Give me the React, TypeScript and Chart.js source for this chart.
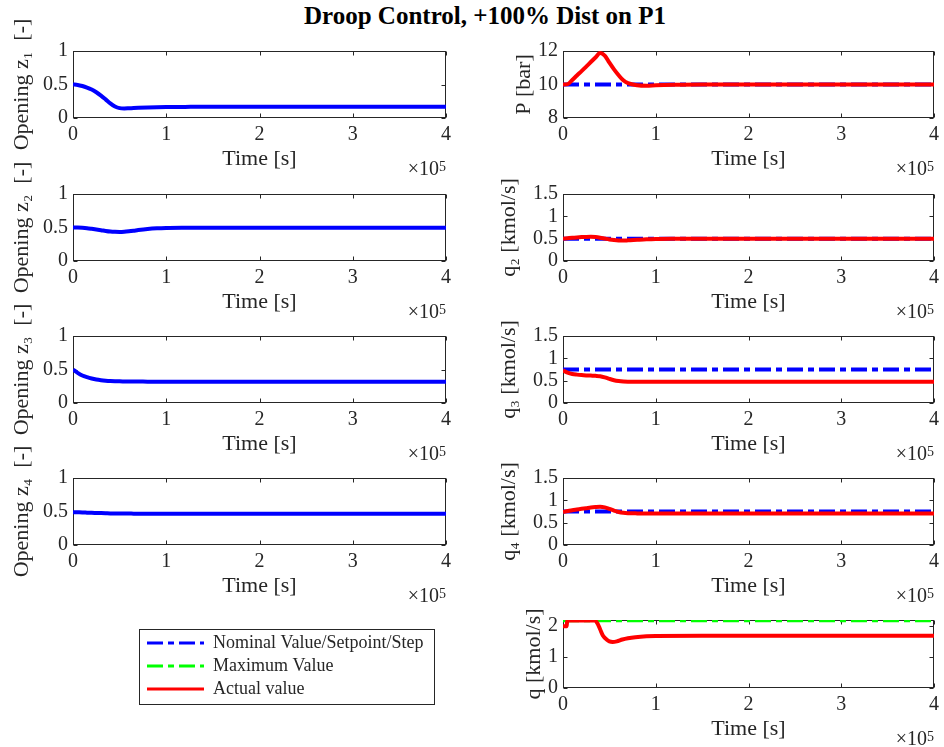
import React, { useEffect, useRef } from 'react';
import { Chart, registerables } from 'chart.js';

Chart.register(...registerables);

// ---------------- data ----------------
const TITLE = 'Droop Control, +100% Dist on P1';
const X_TITLE = 'Time [s]';
const X_EXPONENT = '5';
const X_TICK_STEP = 100000;
const X_MAX = 400000;
const LEGEND_LABELS = ['Nominal Value/Setpoint/Step', 'Maximum Value', 'Actual value'];

const Y_TITLES = ['Opening z\u2081  [-]', 'Opening z\u2082  [-]', 'Opening z\u2083  [-]', 'Opening z\u2084  [-]',
  'P [bar]', 'q\u2082 [kmol/s]', 'q\u2083 [kmol/s]', 'q\u2084 [kmol/s]', 'q [kmol/s]'];

// common time grid [s]
const TIME = [0, 5000, 10000, 15000, 20000, 25000, 30000, 35000, 40000, 45000, 50000, 55000, 60000,
  65000, 70000, 80000, 90000, 100000, 120000, 150000, 200000, 300000, 400000];

const Z1 = [0.5, 0.494, 0.478, 0.455, 0.425, 0.385, 0.335, 0.278, 0.218, 0.172, 0.147, 0.142, 0.145,
  0.149, 0.152, 0.157, 0.161, 0.164, 0.166, 0.168, 0.168, 0.168, 0.168];
const Z2 = [0.5, 0.499, 0.495, 0.489, 0.48, 0.47, 0.46, 0.449, 0.44, 0.435, 0.433, 0.436, 0.443,
  0.452, 0.462, 0.478, 0.488, 0.493, 0.496, 0.497, 0.497, 0.497, 0.497];
const Z3 = [0.5, 0.45, 0.41, 0.385, 0.365, 0.35, 0.34, 0.333, 0.328, 0.325, 0.323, 0.322, 0.321,
  0.32, 0.32, 0.319, 0.319, 0.318, 0.318, 0.318, 0.318, 0.318, 0.318];
const Z4 = [0.49, 0.488, 0.486, 0.483, 0.48, 0.478, 0.476, 0.474, 0.472, 0.471, 0.47, 0.469, 0.469,
  0.468, 0.468, 0.467, 0.467, 0.467, 0.467, 0.467, 0.467, 0.467, 0.467];

const P_ACTUAL = [10.0, 10.02, 10.27, 10.54, 10.8, 11.07, 11.34, 11.61, 11.88, 11.72, 11.3, 10.9, 10.55,
  10.25, 10.08, 9.95, 9.92, 9.95, 9.98, 10.0, 10.0, 10.0, 10.0];
const Q2_ACTUAL = [0.5, 0.51, 0.52, 0.528, 0.535, 0.54, 0.541, 0.536, 0.522, 0.502, 0.482, 0.468, 0.46,
  0.458, 0.462, 0.474, 0.485, 0.492, 0.497, 0.5, 0.5, 0.5, 0.5];
const Q3_ACTUAL = [0.73, 0.68, 0.65, 0.635, 0.625, 0.618, 0.613, 0.608, 0.6, 0.575, 0.54, 0.51, 0.492,
  0.482, 0.478, 0.476, 0.475, 0.475, 0.475, 0.475, 0.475, 0.475, 0.475];
const Q4_ACTUAL = [0.74, 0.76, 0.78, 0.795, 0.81, 0.825, 0.84, 0.85, 0.856, 0.843, 0.81, 0.77, 0.74,
  0.722, 0.713, 0.708, 0.707, 0.707, 0.707, 0.707, 0.707, 0.707, 0.707];

const Q_TIME = [0, 4000, 4500, 34000, 37000, 40000, 43000, 47000, 50000, 53500, 58000, 64000, 70000,
  78000, 90000, 100000, 150000, 400000];
const Q_ACTUAL = [2.0, 2.0, 2.18, 2.18, 2.1, 1.9, 1.7, 1.57, 1.51, 1.49, 1.51, 1.57, 1.61, 1.645, 1.675,
  1.685, 1.69, 1.69];

const REF_TIME = [0, 400000];
const P_SETPOINT = [10, 10];
const Q2_SETPOINT = [0.5, 0.5];
const Q3_SETPOINT = [0.75, 0.75];
const Q4_SETPOINT = [0.75, 0.75];
const Q_MAXIMUM = [2.19, 2.19];

// ---------------- styles / layout ----------------
const SERIF = '"Liberation Serif", "Times New Roman", Times, serif';
const INK = '#262626';
const BLUE = '#0000ff';
const RED = '#ff0000';
const GREEN = '#00ff00';
const DASH_DOT = [16, 5, 6, 5];
const LINE_W = 4;
const TICK_LEN = 4;

const COLS = [
  { canvasLeft: 0, canvasWidth: 470, plotLeft: 73, plotRight: 446 },
  { canvasLeft: 470, canvasWidth: 474, plotLeft: 563, plotRight: 937 },
];
const PAD_TOP = 40;
const X_AXIS_H = 59;

type Series = { t: number[]; v: number[]; color: string; dash?: number[] };
type PlotDef = {
  col: number; top: number; bottom: number;
  yMin: number; yMax: number; yStep: number; bounds: boolean;
  yTitle: string; yTitleCenter: number;
  series: Series[];
};

const PLOTS: PlotDef[] = [
  { col: 0, top: 51, bottom: 118, yMin: 0, yMax: 1, yStep: 0.5, bounds: true, yTitle: Y_TITLES[0], yTitleCenter: 22,
    series: [{ t: TIME, v: Z1, color: BLUE }] },
  { col: 0, top: 194, bottom: 261, yMin: 0, yMax: 1, yStep: 0.5, bounds: true, yTitle: Y_TITLES[1], yTitleCenter: 22,
    series: [{ t: TIME, v: Z2, color: BLUE }] },
  { col: 0, top: 336, bottom: 403, yMin: 0, yMax: 1, yStep: 0.5, bounds: true, yTitle: Y_TITLES[2], yTitleCenter: 22,
    series: [{ t: TIME, v: Z3, color: BLUE }] },
  { col: 0, top: 478, bottom: 545, yMin: 0, yMax: 1, yStep: 0.5, bounds: true, yTitle: Y_TITLES[3], yTitleCenter: 22,
    series: [{ t: TIME, v: Z4, color: BLUE }] },
  { col: 1, top: 51, bottom: 118, yMin: 8, yMax: 12, yStep: 2, bounds: true, yTitle: Y_TITLES[4], yTitleCenter: 524,
    series: [{ t: TIME, v: P_ACTUAL, color: RED }, { t: REF_TIME, v: P_SETPOINT, color: BLUE, dash: DASH_DOT }] },
  { col: 1, top: 194, bottom: 261, yMin: 0, yMax: 1.5, yStep: 0.5, bounds: true, yTitle: Y_TITLES[5], yTitleCenter: 509.5,
    series: [{ t: TIME, v: Q2_ACTUAL, color: RED }, { t: REF_TIME, v: Q2_SETPOINT, color: BLUE, dash: DASH_DOT }] },
  { col: 1, top: 336, bottom: 403, yMin: 0, yMax: 1.5, yStep: 0.5, bounds: true, yTitle: Y_TITLES[6], yTitleCenter: 509.5,
    series: [{ t: TIME, v: Q3_ACTUAL, color: RED }, { t: REF_TIME, v: Q3_SETPOINT, color: BLUE, dash: DASH_DOT }] },
  { col: 1, top: 478, bottom: 545, yMin: 0, yMax: 1.5, yStep: 0.5, bounds: true, yTitle: Y_TITLES[7], yTitleCenter: 509.5,
    series: [{ t: TIME, v: Q4_ACTUAL, color: RED }, { t: REF_TIME, v: Q4_SETPOINT, color: BLUE, dash: DASH_DOT }] },
  { col: 1, top: 620, bottom: 688, yMin: 0, yMax: 2.2, yStep: 1, bounds: false, yTitle: Y_TITLES[8], yTitleCenter: 534.5,
    series: [{ t: Q_TIME, v: Q_ACTUAL, color: RED }, { t: REF_TIME, v: Q_MAXIMUM, color: GREEN, dash: DASH_DOT }] },
];

const fmtTick = (v: any) => String(Number(Number(v).toFixed(4)));

// box, inward ticks and x10^5 multiplier, MATLAB style
const axesDecor = {
  id: 'axesDecor',
  beforeDatasetsDraw(chart: any) {
    const { ctx, chartArea: a } = chart;
    const xs = chart.scales.x;
    const ys = chart.scales.y;
    const L = Math.round(a.left) + 0.5;
    const R = Math.round(a.right) - 0.5;
    const T = Math.round(a.top) + 0.5;
    const B = Math.round(a.bottom) - 0.5;
    ctx.save();
    ctx.strokeStyle = INK;
    ctx.lineWidth = 1;
    ctx.setLineDash([]);
    ctx.strokeRect(L, T, R - L, B - T);
    ctx.beginPath();
    for (const tk of xs.ticks) {
      const px = Math.round(xs.getPixelForValue(tk.value)) + 0.5;
      ctx.moveTo(px, B); ctx.lineTo(px, B - TICK_LEN);
      ctx.moveTo(px, T); ctx.lineTo(px, T + TICK_LEN);
    }
    for (const tk of ys.ticks) {
      const py = Math.round(ys.getPixelForValue(tk.value)) + 0.5;
      ctx.moveTo(L, py); ctx.lineTo(L + TICK_LEN, py);
      ctx.moveTo(R, py); ctx.lineTo(R - TICK_LEN, py);
    }
    ctx.stroke();
    ctx.restore();
  },
  afterDraw(chart: any) {
    const { ctx, chartArea: a } = chart;
    ctx.save();
    ctx.fillStyle = INK;
    ctx.textAlign = 'right';
    ctx.textBaseline = 'alphabetic';
    ctx.font = `14px ${SERIF}`;
    const w5 = ctx.measureText(X_EXPONENT).width;
    ctx.fillText(X_EXPONENT, a.right, a.bottom + 53);
    ctx.font = `20px ${SERIF}`;
    ctx.fillText('\u00d710', a.right - w5, a.bottom + 57);
    ctx.restore();
  },
};

function SubPlot({ def }: { def: PlotDef }) {
  const ref = useRef<HTMLCanvasElement>(null);
  const col = COLS[def.col];
  const plotH = def.bottom - def.top;
  const cw = col.canvasWidth;
  const ch = PAD_TOP + plotH + X_AXIS_H;
  useEffect(() => {
    if (!ref.current) return;
    const chart = new Chart(ref.current, {
      type: 'line',
      data: {
        datasets: def.series.map((s) => ({
          data: s.t.map((x, i) => ({ x, y: s.v[i] })),
          borderColor: s.color,
          backgroundColor: s.color,
          borderWidth: LINE_W,
          borderDash: s.dash ?? [],
          pointRadius: 0,
          fill: false,
          cubicInterpolationMode: 'monotone' as const,
        })),
      },
      options: {
        responsive: false,
        animation: false,
        devicePixelRatio: 1,
        events: [],
        layout: { padding: { left: 0, top: PAD_TOP, right: cw - (col.plotRight - col.canvasLeft), bottom: 0 } },
        plugins: { legend: { display: false }, tooltip: { enabled: false } },
        scales: {
          x: {
            type: 'linear', min: 0, max: X_MAX,
            grid: { display: false, drawTicks: false },
            border: { display: false },
            ticks: {
              stepSize: X_TICK_STEP, autoSkip: false, maxRotation: 0, padding: 5, color: INK,
              font: { family: SERIF, size: 20 },
              callback: (v: any) => String(Number(v) / 1e5),
            },
            title: { display: true, text: X_TITLE, color: INK, font: { family: SERIF, size: 22 }, padding: { top: 0, bottom: 4.3 } },
            afterFit: (s: any) => { s.height = X_AXIS_H; },
          },
          y: {
            type: 'linear', min: def.yMin, max: def.yMax,
            grid: { display: false, drawTicks: false },
            border: { display: false },
            ticks: {
              stepSize: def.yStep, includeBounds: def.bounds, autoSkip: false, padding: 5, color: INK,
              font: { family: SERIF, size: 20 }, callback: fmtTick,
            },
            title: {
              display: true, text: def.yTitle, color: INK, font: { family: SERIF, size: 22 },
              padding: { top: def.yTitleCenter - col.canvasLeft - 13.2, bottom: 0 },
            },
            afterFit: (s: any) => { s.width = col.plotLeft - col.canvasLeft; },
          },
        },
      } as any,
      plugins: [axesDecor],
    });
    return () => chart.destroy();
  }, []);
  return (
    <canvas ref={ref} width={cw} height={ch}
      style={{ position: 'absolute', left: col.canvasLeft, top: def.top - PAD_TOP, width: cw, height: ch }} />
  );
}

const LEGEND_BOX_W = 296;
const LEGEND_BOX_H = 76;

const legendBorder = {
  id: 'legendBorder',
  afterDraw(chart: any) {
    const { ctx } = chart;
    ctx.save();
    ctx.strokeStyle = INK;
    ctx.lineWidth = 1;
    ctx.setLineDash([]);
    ctx.strokeRect(0.5, 0.5, LEGEND_BOX_W - 1, LEGEND_BOX_H - 1);
    ctx.restore();
  },
};

function LegendBox() {
  const ref = useRef<HTMLCanvasElement>(null);
  const W = LEGEND_BOX_W, H = 200;
  useEffect(() => {
    if (!ref.current) return;
    const colors = [BLUE, GREEN, RED];
    const dashes = [DASH_DOT, DASH_DOT, []];
    const chart = new Chart(ref.current, {
      type: 'line',
      data: {
        datasets: LEGEND_LABELS.map((label, i) => ({
          label, data: [], borderColor: colors[i], backgroundColor: colors[i],
          borderWidth: 3, borderDash: dashes[i], pointRadius: 0,
        })),
      },
      options: {
        responsive: false, animation: false, devicePixelRatio: 1, events: [],
        layout: { padding: { left: 3, top: 0, right: 0, bottom: 0 } },
        scales: { x: { display: false }, y: { display: false } },
        plugins: {
          tooltip: { enabled: false },
          legend: {
            display: true, position: 'top', align: 'start',
            labels: {
              usePointStyle: true, pointStyle: 'line', pointStyleWidth: 57,
              padding: 5, color: INK, font: { family: SERIF, size: 18 },
              generateLabels: () => LEGEND_LABELS.map((text, i) => ({
                text, fillStyle: colors[i], strokeStyle: colors[i], lineWidth: 3,
                lineDash: dashes[i], lineCap: 'butt', pointStyle: 'line', hidden: false,
                datasetIndex: i, fontColor: INK,
              })),
            },
          },
        },
      } as any,
      plugins: [legendBorder],
    });
    return () => chart.destroy();
  }, []);
  return <canvas ref={ref} width={W} height={H} style={{ position: 'absolute', left: 139, top: 629, width: W, height: H }} />;
}

export default function App() {
  return (
    <div style={{ position: 'absolute', left: 0, top: 0, width: 944, height: 747, overflow: 'hidden', background: '#fff' }}>
      <div style={{ position: 'absolute', left: 0, top: 1, width: 970, textAlign: 'center', font: `bold 25px ${SERIF}`, lineHeight: '30px', color: '#000' }}>
        {TITLE}
      </div>
      {PLOTS.map((p, i) => <SubPlot key={i} def={p} />)}
      <LegendBox />
    </div>
  );
}
